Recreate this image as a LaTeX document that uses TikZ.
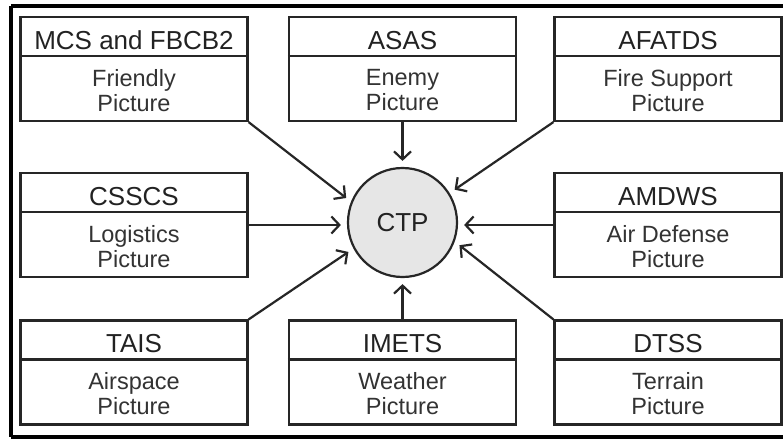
\documentclass[tikz,border=0pt]{standalone}
\usepackage{fontspec}
\setmainfont{Liberation Sans}
\usetikzlibrary{arrows.meta}
\definecolor{txt}{HTML}{222222}
\definecolor{subtxt}{HTML}{333333}
\definecolor{ctpfill}{HTML}{E6E6E6}
\tikzset{
  sysbox/.style={draw=black!85, line width=2.2pt, minimum width=227pt, minimum height=104pt, inner sep=0pt},
  divline/.style={draw=black!85, line width=2.2pt},
  titletxt/.style={text=txt, font=\fontsize{26}{28}\selectfont, text height=18.6pt, text depth=0pt, inner sep=0pt},
  subtxt/.style={text=subtxt, font=\fontsize{23.5}{25}\selectfont, align=center, inner sep=0pt, anchor=north},
  arr/.style={draw=black!85, line width=2.2pt, -{Straight Barb[length=8pt,width=17pt,line width=2.2pt]}, shorten >=6pt},
  frame/.style={draw=black, line width=3.5pt}
}
\newcommand\mksys[5]{%
  \node[sysbox] (#1) at (#2,#3) {};
  \draw[divline] ([yshift=-40pt]#1.north west) -- ([yshift=-40pt]#1.north east);
  \node[titletxt] (#1-t) at ([yshift=-24pt]#1.north) {#4};
  \node[subtxt] (#1-s) at ([yshift=-53pt]#1.north) {#5};
}
\begin{document}
\begin{tikzpicture}[x=1pt,y=-1pt]
\useasboundingbox (0,0) rectangle (783,441);
\fill[white] (0,0) rectangle (783,441);
\draw[frame] (11,6) -- (783,6);
\draw[frame] (11,6) -- (11,437);
\draw[frame] (11,437) -- (783,437);

\mksys{mcs}{134}{69}{MCS and FBCB2}{Friendly\\Picture}
\mksys{asas}{402.5}{69}{ASAS}{Enemy\\Picture}
\mksys{afatds}{668}{69}{AFATDS}{Fire Support\\Picture}
\mksys{csscs}{134}{225}{CSSCS}{Logistics\\Picture}
\mksys{amdws}{668}{225}{AMDWS}{Air Defense\\Picture}
\mksys{tais}{134}{372.5}{TAIS}{Airspace\\Picture}
\mksys{imets}{402.5}{372.5}{IMETS}{Weather\\Picture}
\mksys{dtss}{668}{372.5}{DTSS}{Terrain\\Picture}

\node[circle, draw=black!85, line width=2.2pt, fill=ctpfill, minimum size=109pt, inner sep=0pt,
      text=txt, font=\fontsize{26}{28}\selectfont] (ctp) at (402.5,222.5) {CTP};

\draw[arr] (mcs.south east) -- (ctp.158.4);
\draw[arr] (asas.south) -- (ctp.north);
\draw[arr] (afatds.south west) -- (ctp.32.6);
\draw[arr] (csscs.east) -- (csscs.east -| ctp.west);
\draw[arr] (amdws.west) -- (amdws.west -| ctp.east);
\draw[arr] (tais.north east) -- (ctp.208.6);
\draw[arr] (imets.north) -- (ctp.south);
\draw[arr] (dtss.north west) -- (ctp.340.6);
\end{tikzpicture}
\end{document}
